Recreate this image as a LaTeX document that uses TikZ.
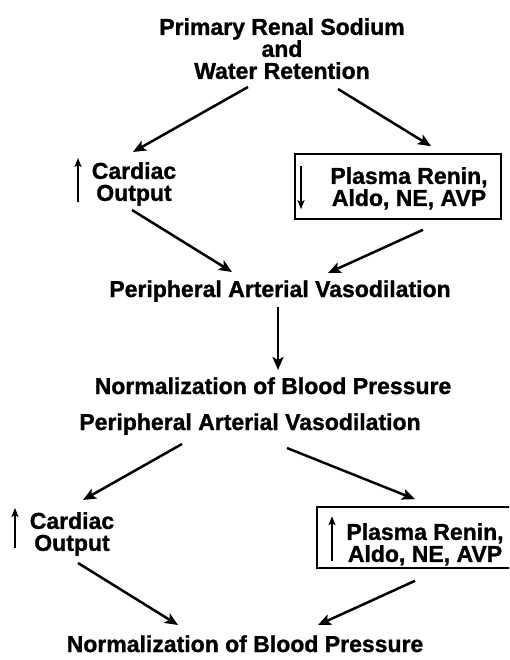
\documentclass[tikz,border=0pt]{standalone}
\usepackage{fontspec}
\setmainfont{Liberation Sans}[BoldFeatures={FakeBold=1.2}]
\usetikzlibrary{arrows.meta,calc}
\tikzset{
  lbl/.style={inner sep=0pt, font=\fontsize{23}{22}\selectfont\bfseries, align=center},
  frame/.style={draw, line width=1.6pt, inner sep=0pt},
  conn/.style={line width=2.5pt, -{Stealth[length=13pt,width=11pt,inset=3pt]}},
  sym/.style={line width=2pt, -{Stealth[length=9pt,width=7pt,inset=2pt]}}
}
\begin{document}
\begin{tikzpicture}[x=1pt,y=-1pt]
\clip (0,0) rectangle (509,660);
\fill[white] (0,0) rectangle (509,660);
% text nodes
\node[lbl, anchor=north] (top) at (282,18) {Primary Renal Sodium\\and\\Water Retention};
\node[lbl, anchor=north] (card1) at (134,162) {Cardiac\\Output};
\node[frame, minimum width=206pt, minimum height=65pt] (box1) at (398,186.5) {};
\node[lbl, anchor=north] (t1) at (409,167) {Plasma Renin,\\Aldo, NE, AVP};
\node[lbl, anchor=base] (pav1) at (280,297) {Peripheral Arterial Vasodilation};
\node[lbl, anchor=base] (nbp1) at (273,394) {Normalization of Blood Pressure};
\node[lbl, anchor=base] (pav2) at (250,430) {Peripheral Arterial Vasodilation};
\node[lbl, anchor=north] (card2) at (72,512) {Cardiac\\Output};
\node[frame, minimum width=203pt, minimum height=61pt] (box2) at (418.5,537.5) {};
\node[lbl, anchor=north] (t2) at (425,523) {Plasma Renin,\\Aldo, NE, AVP};
\node[lbl, anchor=base] (nbp2) at (245,652) {Normalization of Blood Pressure};
% direction symbols
\draw[sym] ($(card1.north)+(-56,40)$) -- ($(card1.north)+(-56,-4)$);
\draw[sym] ($(box1.north)+(-97,13)$) -- ($(box1.north)+(-97,56)$);
\draw[sym] ($(card2.north)+(-57,36)$) -- ($(card2.north)+(-57,-4)$);
\draw[sym] ($(box2.north)+(-86.5,55)$) -- ($(box2.north)+(-86.5,10)$);
% connectors
\draw[conn] ($(top.north)+(-34,69)$) -- ($(card1.north)+(-1,-10)$);
\draw[conn] ($(top.north)+(56,71)$) -- ($(box1.north)+(33,-7)$);
\draw[conn] ($(card1.north)+(-2,48)$) -- ($(pav1.base)+(-48,-25)$);
\draw[conn] ($(box1.south)+(25,10)$) -- ($(pav1.base)+(48,-24)$);
\draw[conn] ($(pav1.base)+(-2,10)$) -- ($(nbp1.base)+(5,-24)$);
\draw[conn] ($(pav2.base)+(-68,14)$) -- ($(card2.north)+(11,-12)$);
\draw[conn] ($(pav2.base)+(37,18)$) -- ($(box2.north)+(-3.5,-7)$);
\draw[conn] ($(card2.north)+(6,51)$) -- ($(nbp2.base)+(-67,-27)$);
\draw[conn] ($(box2.south)+(-3.5,12)$) -- ($(nbp2.base)+(73,-27)$);
\end{tikzpicture}
\end{document}
